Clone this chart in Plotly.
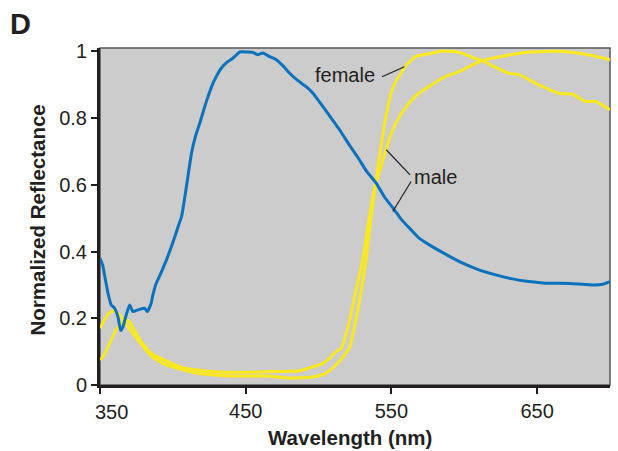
import plotly.graph_objects as go

# Reflectance spectra (normalized) of the two sexes
blue_wl = [350, 351.8, 353.3, 355.5, 357.7, 360, 362.3, 364.2, 365.8, 368, 370.3, 372.6, 376,
           380.6, 382.4, 385.1, 386.3, 388.6, 389.7, 395.6, 401.4, 404, 406, 409.5, 412.8,
           415.5, 418.5, 423, 427.6, 430.5, 433.3, 437, 441.3, 446, 451, 455, 458, 462, 466,
           471, 476, 480, 485, 491.5, 496, 500.7, 507, 514.4, 521, 528, 533, 539.5, 545, 552,
           557, 563.5, 569, 576, 588, 599, 610, 621.6, 633, 644.5, 656, 667.3, 678, 688, 695,
           700]
blue_r = [0.38, 0.36, 0.325, 0.275, 0.24, 0.23, 0.205, 0.163, 0.175, 0.21, 0.24, 0.22, 0.225,
          0.23, 0.22, 0.245, 0.27, 0.305, 0.315, 0.375, 0.445, 0.48, 0.505, 0.60, 0.695,
          0.745, 0.785, 0.85, 0.905, 0.93, 0.95, 0.967, 0.98, 0.998, 0.998, 0.997, 0.99,
          0.995, 0.985, 0.975, 0.955, 0.935, 0.915, 0.894, 0.875, 0.848, 0.81, 0.765, 0.72,
          0.675, 0.64, 0.605, 0.565, 0.525, 0.495, 0.465, 0.44, 0.42, 0.39, 0.365, 0.345, 0.33,
          0.318, 0.31, 0.305, 0.305, 0.303, 0.30, 0.302, 0.31]

male_wl = [350, 352, 355, 357.7, 361, 364.6, 368, 371, 376, 380, 385, 394, 405.7, 417, 428.5,
           441, 464, 487, 498, 503, 507.5, 512, 515.5, 520, 525, 530.3, 534, 539, 542.5, 546.3,
           550, 555.5, 563, 569, 576, 583, 587.5, 596.6, 608, 612.5, 626, 644.5, 665, 678.8,
           690, 700]
male_r = [0.075, 0.085, 0.11, 0.135, 0.165, 0.185, 0.195, 0.185, 0.145, 0.12, 0.095, 0.075,
          0.053, 0.045, 0.04, 0.038, 0.04, 0.043, 0.057, 0.065, 0.08, 0.10, 0.11, 0.17, 0.27,
          0.375, 0.48, 0.60, 0.65, 0.705, 0.755, 0.805, 0.85, 0.875, 0.895, 0.915, 0.925,
          0.94, 0.965, 0.972, 0.985, 0.998, 1.0, 0.994, 0.985, 0.975]

female_wl = [350, 353, 356, 359, 362.3, 366, 370, 376, 385, 394, 405.7, 417, 428.5, 441, 464,
             480, 494, 502, 507.5, 512, 516, 521, 524.5, 528, 532.6, 536, 539, 542.5, 545,
             549.8, 553, 556.6, 560, 566.8, 576, 583, 590, 596.6, 608, 612.5, 620, 630.8, 637.7,
             649, 657, 665, 674, 683, 690, 695, 700]
female_r = [0.17, 0.195, 0.215, 0.222, 0.215, 0.195, 0.17, 0.135, 0.087, 0.063, 0.047, 0.035,
            0.03, 0.027, 0.027, 0.021, 0.023, 0.03, 0.043, 0.06, 0.08, 0.11, 0.17, 0.25, 0.375,
            0.5, 0.60, 0.705, 0.775, 0.875, 0.91, 0.935, 0.958, 0.985, 0.993, 1.0, 1.0, 0.997,
            0.978, 0.972, 0.955, 0.934, 0.93, 0.904, 0.888, 0.874, 0.872, 0.85, 0.85, 0.838,
            0.825]

x_ticks = [350, 450, 550, 650]
y_ticks = [0, 0.2, 0.4, 0.6, 0.8, 1]
y_labels = ["0", "0.2", "0.4", "0.6", "0.8", "1"]

BLUE = "#0a72bd"
YELLOW = "#fbe91f"
INK = "#231f20"
FONT = "Liberation Sans, Arial, sans-serif"

fig = go.Figure()
for wl, r, col in [(male_wl, male_r, YELLOW), (female_wl, female_r, YELLOW),
                   (blue_wl, blue_r, BLUE)]:
    fig.add_trace(go.Scatter(x=wl, y=r, mode="lines",
                             line=dict(color=col, width=3, shape="spline", smoothing=0.5)))

# leader lines for the curve labels
leaders = [
    ((543.6, 0.924), (558.9, 0.954)),   # female
    ((562.8, 0.630), (546.4, 0.705)),   # male, yellow
    ((563.5, 0.610), (550.9, 0.520)),   # male, blue
]
shapes = [dict(type="rect", xref="x domain", yref="y domain", x0=0, x1=1, y0=0, y1=1,
               line=dict(color="#58595b", width=1.5), layer="below")]
for (a, b) in leaders:
    shapes.append(dict(type="line", xref="x", yref="y", x0=a[0], y0=a[1], x1=b[0], y1=b[1],
                       line=dict(color=INK, width=1.2)))

annotations = [
    dict(text="female", x=518.2, y=0.93, xref="x", yref="y", showarrow=False,
         font=dict(size=20, color=INK, family=FONT)),
    dict(text="male", x=580.1, y=0.624, xref="x", yref="y", showarrow=False,
         font=dict(size=20, color=INK, family=FONT)),
    dict(text="350", x=350, y=0, xref="x", yref="paper", showarrow=False, xshift=11,
         yanchor="top", yshift=-14, font=dict(size=20, color=INK, family=FONT)),
    dict(text="<b>Wavelength (nm)</b>", x=0.49, y=0, xref="paper", yref="paper",
         showarrow=False, yanchor="middle", yshift=-52,
         font=dict(size=20.5, color=INK, family=FONT)),
    dict(text="<b>Normalized Reflectance</b>", x=0, y=0.5, xref="paper", yref="paper",
         showarrow=False, textangle=-90, xanchor="center", yanchor="middle", xshift=-63,
         yshift=-4, font=dict(size=20.5, color=INK, family=FONT)),
    dict(text="<b>D</b>", x=0, y=1, xref="paper", yref="paper", showarrow=False,
         xanchor="center", yanchor="middle", xshift=-80, yshift=24,
         font=dict(size=29, color=INK, family=FONT)),
]

fig.update_layout(
    width=618, height=451,
    margin=dict(l=100, r=8, t=48, b=66),
    paper_bgcolor="white", plot_bgcolor="#cccccc",
    showlegend=False,
    shapes=shapes, annotations=annotations,
    font=dict(family=FONT, size=20, color=INK),
    xaxis=dict(range=[350, 700], tickvals=x_ticks, ticktext=["", "450", "550", "650"],
               showgrid=False, zeroline=False, showline=True, linewidth=3, linecolor=INK,
               ticks="outside", ticklen=6, tickwidth=2, tickcolor=INK,
               tickfont=dict(size=20, color=INK, family=FONT)),
    yaxis=dict(range=[0, 1.01], tickvals=y_ticks, ticktext=y_labels,
               showgrid=False, zeroline=False, showline=True, linewidth=3, linecolor=INK,
               ticks="outside", ticklen=6, tickwidth=2, tickcolor=INK,
               tickfont=dict(size=20, color=INK, family=FONT)),
)

fig.write_html("out.html")
